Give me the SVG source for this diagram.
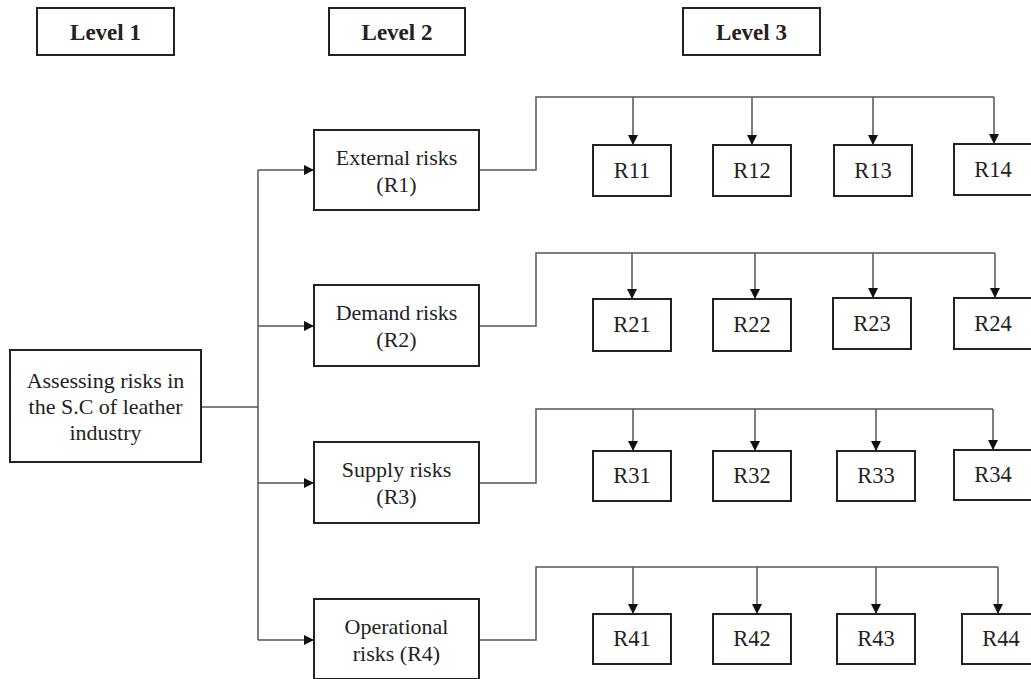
<svg xmlns="http://www.w3.org/2000/svg" width="1031" height="679" viewBox="0 0 1031 679">
<style>
.box{fill:#fff;stroke:#222;stroke-width:2}
.ln{fill:none;stroke:#555;stroke-width:1.5}
.t{font-family:"Liberation Serif","Times New Roman",serif;font-size:22px;fill:#222;text-anchor:middle}
.r{font-size:22.5px}
.b{font-weight:bold;font-size:23px}
</style>
<defs>
<marker id="ah" markerUnits="userSpaceOnUse" markerWidth="11" markerHeight="11" refX="10" refY="5" orient="auto">
<path d="M0,0 L10,5 L0,10 z" fill="#111"/>
</marker>
</defs>
<rect width="1031" height="679" fill="#fff"/>

<g id="connectors">
<path class="ln" d="M201,407 H258"/>
<path class="ln" d="M258,170 V640"/>
<path class="ln" d="M258,170 H314" marker-end="url(#ah)"/>
<path class="ln" d="M258,326 H314" marker-end="url(#ah)"/>
<path class="ln" d="M258,483 H314" marker-end="url(#ah)"/>
<path class="ln" d="M258,640 H314" marker-end="url(#ah)"/>

<path class="ln" d="M479,170 H536 V97 H994"/>
<path class="ln" d="M633,97 V145" marker-end="url(#ah)"/>
<path class="ln" d="M752,97 V145" marker-end="url(#ah)"/>
<path class="ln" d="M873,97 V145" marker-end="url(#ah)"/>
<path class="ln" d="M994,97 V144" marker-end="url(#ah)"/>

<path class="ln" d="M479,326 H536 V253 H995"/>
<path class="ln" d="M632,253 V299" marker-end="url(#ah)"/>
<path class="ln" d="M755,253 V299" marker-end="url(#ah)"/>
<path class="ln" d="M873,253 V298" marker-end="url(#ah)"/>
<path class="ln" d="M995,253 V298" marker-end="url(#ah)"/>

<path class="ln" d="M479,483 H536 V409 H993"/>
<path class="ln" d="M633,409 V451" marker-end="url(#ah)"/>
<path class="ln" d="M755,409 V451" marker-end="url(#ah)"/>
<path class="ln" d="M876,409 V451" marker-end="url(#ah)"/>
<path class="ln" d="M993,409 V450" marker-end="url(#ah)"/>

<path class="ln" d="M479,640 H536 V567 H998"/>
<path class="ln" d="M633,567 V614" marker-end="url(#ah)"/>
<path class="ln" d="M757,567 V614" marker-end="url(#ah)"/>
<path class="ln" d="M876,567 V614" marker-end="url(#ah)"/>
<path class="ln" d="M998,567 V614" marker-end="url(#ah)"/>
</g>

<g id="level1"><rect class="box" x="37" y="8" width="137" height="47"/><text class="t b" x="105.5" y="40">Level 1</text></g>
<g id="level2"><rect class="box" x="329" y="8" width="136" height="47"/><text class="t b" x="397" y="40">Level 2</text></g>
<g id="level3"><rect class="box" x="683" y="8" width="137" height="47"/><text class="t b" x="751.5" y="40">Level 3</text></g>

<g id="root"><rect class="box" x="10" y="350" width="191" height="112"/>
<text class="t" x="105.5" y="388">Assessing risks in</text>
<text class="t" x="105.5" y="414">the S.C of leather</text>
<text class="t" x="105.5" y="440">industry</text></g>

<g id="R1"><rect class="box" x="314" y="130" width="165" height="80"/><text class="t" x="396.5" y="165">External risks</text><text class="t" x="396.5" y="192">(R1)</text></g>
<g id="R2"><rect class="box" x="314" y="285" width="165" height="81"/><text class="t" x="396.5" y="320">Demand risks</text><text class="t" x="396.5" y="347">(R2)</text></g>
<g id="R3"><rect class="box" x="314" y="442" width="165" height="81"/><text class="t" x="396.5" y="477">Supply risks</text><text class="t" x="396.5" y="504">(R3)</text></g>
<g id="R4"><rect class="box" x="314" y="599" width="165" height="80"/><text class="t" x="396.5" y="634">Operational</text><text class="t" x="396.5" y="661">risks (R4)</text></g>

<g id="R11"><rect class="box" x="593" y="145" width="78" height="51"/><text class="t r" x="632" y="178">R11</text></g>
<g id="R12"><rect class="box" x="713" y="145" width="78" height="51"/><text class="t r" x="752" y="178">R12</text></g>
<g id="R13"><rect class="box" x="834" y="145" width="78" height="51"/><text class="t r" x="873" y="178">R13</text></g>
<g id="R14"><rect class="box" x="954" y="144" width="78" height="51"/><text class="t r" x="993" y="177">R14</text></g>

<g id="R21"><rect class="box" x="593" y="299" width="78" height="52"/><text class="t r" x="632" y="332">R21</text></g>
<g id="R22"><rect class="box" x="713" y="299" width="78" height="52"/><text class="t r" x="752" y="332">R22</text></g>
<g id="R23"><rect class="box" x="833" y="298" width="78" height="51"/><text class="t r" x="872" y="331">R23</text></g>
<g id="R24"><rect class="box" x="954" y="298" width="78" height="51"/><text class="t r" x="993" y="331">R24</text></g>

<g id="R31"><rect class="box" x="593" y="451" width="78" height="50"/><text class="t r" x="632" y="483">R31</text></g>
<g id="R32"><rect class="box" x="713" y="451" width="78" height="50"/><text class="t r" x="752" y="483">R32</text></g>
<g id="R33"><rect class="box" x="837" y="451" width="78" height="50"/><text class="t r" x="876" y="483">R33</text></g>
<g id="R34"><rect class="box" x="954" y="450" width="78" height="50"/><text class="t r" x="993" y="482">R34</text></g>

<g id="R41"><rect class="box" x="593" y="614" width="78" height="50"/><text class="t r" x="632" y="646">R41</text></g>
<g id="R42"><rect class="box" x="713" y="614" width="78" height="50"/><text class="t r" x="752" y="646">R42</text></g>
<g id="R43"><rect class="box" x="837" y="614" width="78" height="50"/><text class="t r" x="876" y="646">R43</text></g>
<g id="R44"><rect class="box" x="962" y="614" width="78" height="50"/><text class="t r" x="1001" y="646">R44</text></g>
</svg>
